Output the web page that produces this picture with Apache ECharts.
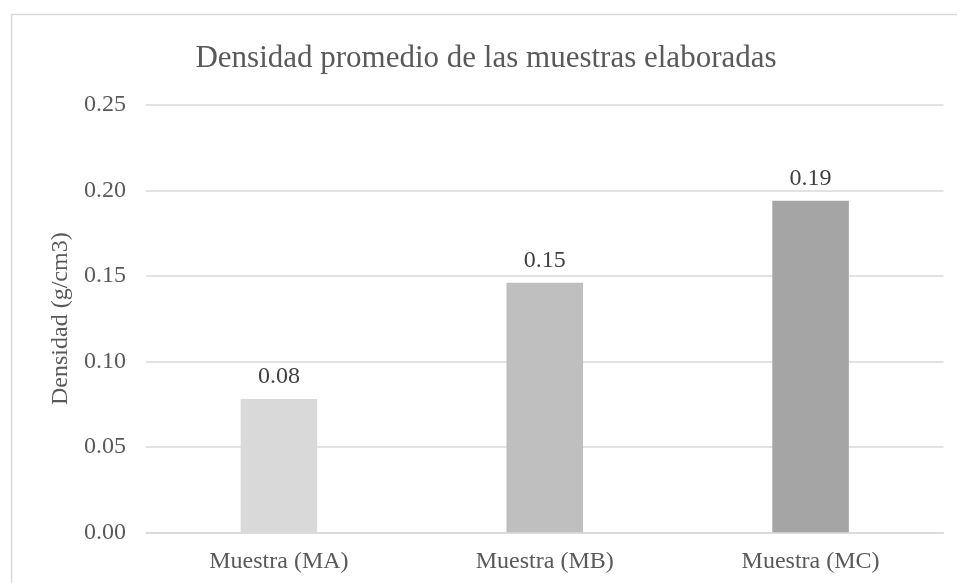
<!DOCTYPE html>
<html>
<head>
<meta charset="utf-8">
<script src="https://cdn.jsdelivr.net/npm/echarts@6/dist/echarts.min.js"></script>
<style>
html,body{margin:0;padding:0;background:#fff;}
#main{width:957px;height:583px;}
</style>
</head>
<body>
<div id="main"></div>
<script>
const categories = ['Muestra (MA)', 'Muestra (MB)', 'Muestra (MC)'];
const values = [0.078, 0.146, 0.194];
const valueLabels = ['0.08', '0.15', '0.19'];
const barColors = ['#d9d9d9', '#bfbfbf', '#a5a5a5'];
const titleText = 'Densidad promedio de las muestras elaboradas';
const yAxisName = 'Densidad (g/cm3)';

const FONT = '"Liberation Serif", "Times New Roman", serif';
const chart = echarts.init(document.getElementById('main'), null, {renderer: 'canvas'});
chart.setOption({
  backgroundColor: '#fff',
  animation: false,
  graphic: [{
    type: 'rect',
    shape: {x: 11.5, y: 14.5, width: 1100, height: 700},
    style: {fill: 'none', stroke: '#d9d9d9', lineWidth: 1.5},
    silent: true
  }],
  title: {
    text: titleText,
    left: 481, top: 38, textAlign: 'center',
    textStyle: {fontFamily: FONT, fontSize: 31, fontWeight: 'normal', color: '#595959'}
  },
  grid: {left: 146, right: 13.5, top: 105, bottom: 50.7, containLabel: false},
  xAxis: {
    type: 'category',
    data: categories,
    axisLine: {show: true, lineStyle: {color: '#d9d9d9', width: 1.5}},
    axisTick: {show: false},
    axisLabel: {fontFamily: FONT, fontSize: 24, color: '#595959', margin: 17}
  },
  yAxis: {
    type: 'value',
    min: 0, max: 0.25, interval: 0.05,
    name: yAxisName,
    nameLocation: 'middle',
    nameGap: 71,
    nameTextStyle: {fontFamily: FONT, fontSize: 24, color: '#595959'},
    axisLine: {show: false},
    axisTick: {show: false},
    axisLabel: {fontFamily: FONT, fontSize: 24, color: '#595959', margin: 20,
      formatter: v => v.toFixed(2)},
    splitLine: {lineStyle: {color: '#d9d9d9', width: 1.5}}
  },
  series: [{
    type: 'bar',
    barWidth: '28.8%',
    data: values.map((v, i) => ({value: v, itemStyle: {color: barColors[i]}})),
    label: {
      show: true, position: 'top', distance: 10,
      fontFamily: FONT, fontSize: 24, color: '#404040',
      formatter: p => valueLabels[p.dataIndex]
    }
  }]
});
</script>
</body>
</html>
